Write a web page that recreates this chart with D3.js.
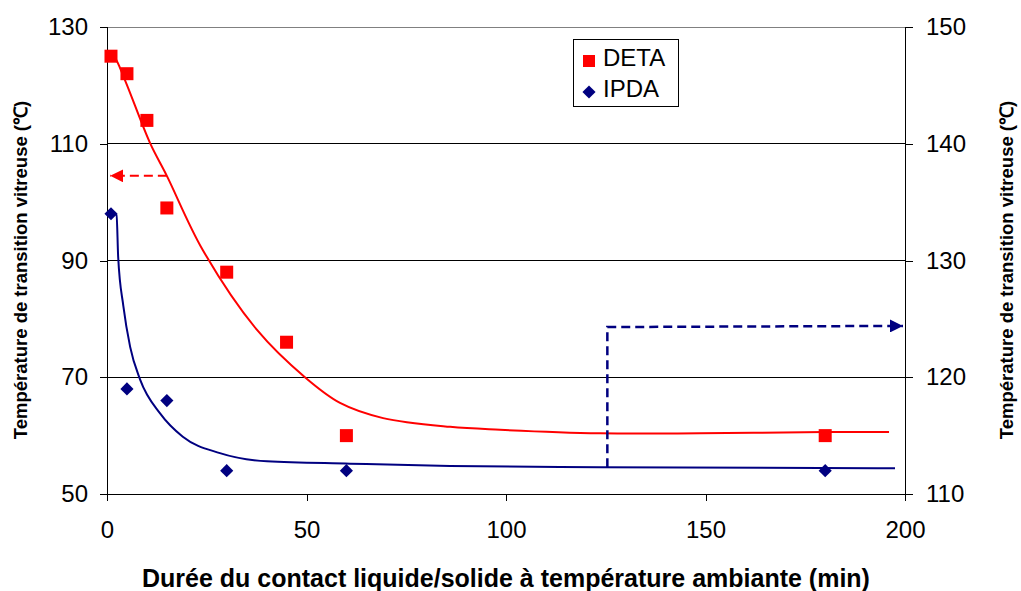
<!DOCTYPE html>
<html><head><meta charset="utf-8">
<script src="https://cdn.jsdelivr.net/npm/d3@7"></script>
<style>body{margin:0;background:#fff}svg{display:block}text{font-family:"Liberation Sans",Arial,sans-serif}</style>
</head><body><svg id="c" width="1021" height="591"></svg>
<script>
// Data
const xTicks = [0, 50, 100, 150, 200];
const leftTicks = [50, 70, 90, 110, 130];
const rightTicks = [110, 120, 130, 140, 150];
const detaX = [1, 5, 10, 15, 30, 45, 60, 180];
const detaY = [125, 122, 114, 99, 88, 76, 60, 60];
const ipdaX = [1, 5, 15, 30, 60, 180];
const ipdaY = [134, 119, 118, 112, 112, 112];
// fitted trend curves as drawn in the reference
const detaFitX = [1, 2, 4.5, 10.8, 15, 24, 37.6, 49.6, 58.4, 69.2, 86, 98.5, 123.6, 148.6, 180, 196];
const detaFitY = [125.2, 124.7, 120.9, 110.1, 104.5, 91.8, 78.1, 70.0, 65.6, 63.0, 61.5, 61.0, 60.4, 60.4, 60.6, 60.6];
const ipdaFitX = [1, 2.4, 2.8, 4.1, 5.8, 8.3, 13.3, 19, 28.3, 40.1, 60.9, 86, 123.6, 197.5];
const ipdaFitY = [134.1, 133.9, 130.3, 126.1, 122.6, 119.8, 116.9, 114.9, 113.5, 112.8, 112.6, 112.4, 112.3, 112.2];
// annotation arrows (data coords)
const detaArrowX = [15, 0.8], detaArrowY = 104.5;
const ipdaArrowX = [125.4, 199.5], ipdaArrowY = [112.3, 124.3, 124.4];
const series = ["DETA", "IPDA"];

const svg = d3.select("#c");
const L = 107, R = 905, T = 27, B = 494;
const x = d3.scaleLinear().domain([0, 200]).range([L, R]);
const yL = d3.scaleLinear().domain([50, 130]).range([B, T]);
const yR = d3.scaleLinear().domain([110, 150]).range([B, T]);

// gridlines
svg.append("g").selectAll("line").data(leftTicks.slice(1)).join("line")
  .attr("x1", L).attr("x2", R).attr("y1", d => yL(d)).attr("y2", d => yL(d))
  .attr("stroke", d => d === 130 ? "#808080" : "#000").attr("stroke-width", 1)
  .attr("shape-rendering", "crispEdges");

// axes
const fs = "24px";
const gx = svg.append("g").attr("transform", `translate(0,${B})`)
  .call(d3.axisBottom(x).tickValues(xTicks).tickSize(7));
const gl = svg.append("g").attr("transform", `translate(${L},0)`)
  .call(d3.axisLeft(yL).tickValues(leftTicks).tickSize(7).tickPadding(12));
const gr = svg.append("g").attr("transform", `translate(${R},0)`)
  .call(d3.axisRight(yR).tickValues(rightTicks).tickSize(8).tickPadding(13));
[gx, gl, gr].forEach(g => {
  g.select(".domain").attr("stroke", "#000").attr("shape-rendering", "crispEdges");
  g.selectAll(".tick line").attr("stroke", "#000").attr("shape-rendering", "crispEdges");
  g.selectAll("text").attr("font-size", fs).attr("fill", "#000").attr("font-family", "Liberation Sans, Arial, sans-serif");
});
gx.select(".domain").attr("d", `M${L},0H${R + 8}`);
gl.select(".domain").attr("d", `M0,${B + 7}V${T}`);
gr.select(".domain").attr("d", `M0,${B + 7}V${T}`);
gx.selectAll(".tick text").attr("y", 44).attr("dy", 0);

// fitted curves
const lineL = d3.line().x(d => x(d[0])).y(d => yL(d[1])).curve(d3.curveCatmullRom.alpha(0.5));
const lineR = d3.line().x(d => x(d[0])).y(d => yR(d[1])).curve(d3.curveMonotoneX);
svg.append("path").attr("d", lineL(d3.zip(detaFitX, detaFitY)))
  .attr("fill", "none").attr("stroke", "#FF0000").attr("stroke-width", 2);
svg.append("path").attr("d", lineR(d3.zip(ipdaFitX, ipdaFitY)))
  .attr("fill", "none").attr("stroke", "#000080").attr("stroke-width", 2);

// arrows
const defs = svg.append("defs");
[["aR", "#FF0000"], ["aB", "#000080"]].forEach(([id, c]) => {
  defs.append("marker").attr("id", id).attr("viewBox", "0 0 10 10").attr("refX", 10).attr("refY", 5)
    .attr("markerWidth", 13).attr("markerHeight", 13).attr("markerUnits", "userSpaceOnUse").attr("orient", "auto")
    .append("path").attr("d", "M0,0L10,5L0,10Z").attr("fill", c);
});
svg.append("path")
  .attr("d", `M${x(detaArrowX[0])},${yL(detaArrowY)}H${x(detaArrowX[1])}`)
  .attr("fill", "none").attr("stroke", "#FF0000").attr("stroke-width", 2)
  .attr("stroke-dasharray", "9,5").attr("marker-end", "url(#aR)");
svg.append("path")
  .attr("d", `M${x(ipdaArrowX[0])},${yR(ipdaArrowY[0])}V${yR(ipdaArrowY[1])}L${x(ipdaArrowX[1])},${yR(ipdaArrowY[2])}`)
  .attr("fill", "none").attr("stroke", "#000080").attr("stroke-width", 2.5)
  .attr("stroke-dasharray", "9,5").attr("marker-end", "url(#aB)");

// markers
const sq = 13;
svg.append("g").selectAll("rect").data(d3.zip(detaX, detaY)).join("rect")
  .attr("x", d => x(d[0]) - sq / 2).attr("y", d => yL(d[1]) - sq / 2)
  .attr("width", sq).attr("height", sq).attr("fill", "#FF0000");
const diamond = d3.symbol().type(d3.symbolDiamond2).size(110);
svg.append("g").selectAll("path").data(d3.zip(ipdaX, ipdaY)).join("path")
  .attr("transform", d => `translate(${x(d[0])},${yR(d[1])})`)
  .attr("d", diamond).attr("fill", "#000080");

// legend
const lg = svg.append("g");
lg.append("rect").attr("x", 573.5).attr("y", 39.5).attr("width", 105).attr("height", 67)
  .attr("fill", "#fff").attr("stroke", "#000").attr("stroke-width", 1);
lg.append("rect").attr("x", 583).attr("y", 55).attr("width", 12).attr("height", 12).attr("fill", "#FF0000");
lg.append("path").attr("transform", "translate(589,92)").attr("d", diamond).attr("fill", "#000080");
lg.selectAll("text").data(series).join("text")
  .attr("x", 603).attr("y", (d, i) => 66 + i * 31).attr("font-size", "24px").attr("fill", "#000").text(d => d);

// axis titles
svg.append("text").attr("x", 506).attr("y", 587).attr("text-anchor", "middle")
  .attr("font-size", "25px").attr("font-weight", "bold")
  .text("Durée du contact liquide/solide à température ambiante (min)");
svg.append("text").attr("transform", "translate(27,270) rotate(-90)").attr("text-anchor", "middle")
  .attr("font-size", "18.5px").attr("font-weight", "bold")
  .text("Température de transition vitreuse (℃)");
svg.append("text").attr("transform", "translate(1013,270) rotate(-90)").attr("text-anchor", "middle")
  .attr("font-size", "18.5px").attr("font-weight", "bold")
  .text("Température de transition vitreuse (℃)");
</script></body></html>
